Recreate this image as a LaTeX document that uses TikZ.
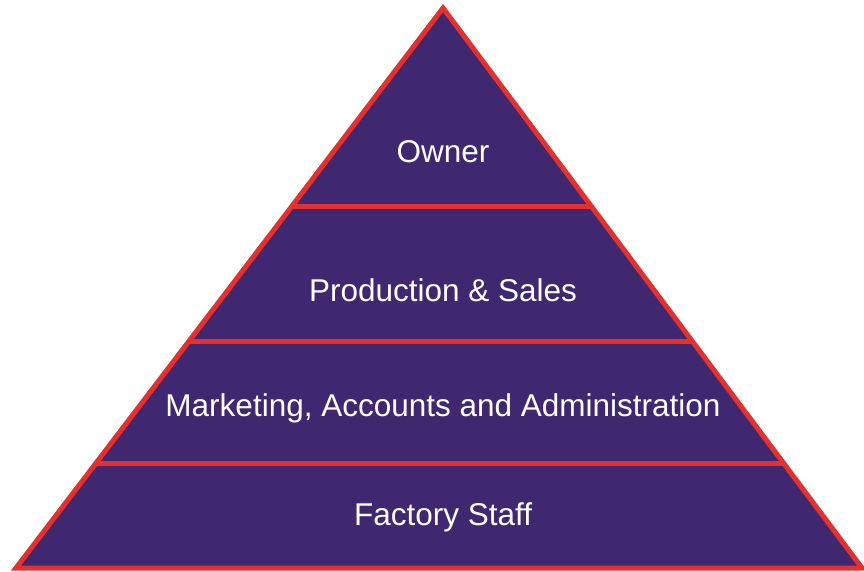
\documentclass[tikz,border=0pt]{standalone}
\usepackage{fontspec}
\setmainfont{Liberation Sans}
\usetikzlibrary{calc}
\definecolor{pyrfill}{HTML}{3F2870}
\definecolor{pyredge}{HTML}{E2312F}
\begin{document}
\begin{tikzpicture}[x=1pt,y=-1pt,
	edge/.style={draw=pyredge,line width=5pt},
	tier/.style={text=white,font=\fontsize{31.5}{36}\selectfont}]
	\useasboundingbox (0,0) rectangle (864,572);
	\coordinate (top) at (443,8);
	\coordinate (bl) at (16,568);
	\coordinate (br) at (862,568);
	\fill[pyrfill] (top) -- (bl) -- (br) -- cycle;
	% level dividers
	\foreach \y in {207,342,463}{
		\draw[edge] ($(top)!{(\y-8)/560}!(bl)$) -- ($(top)!{(\y-8)/560}!(br)$);
	}
	\draw[edge,line join=miter] (top) -- (bl) -- (br) -- cycle;
	\node[tier] (owner) at (443,152) {Owner};
	\node[tier] (prod) at (443,290) {Production \& Sales};
	\node[tier] (mkt) at (443,408) {Marketing, Accounts and Administration};
	\node[tier] (staff) at (443,517) {Factory Staff};
\end{tikzpicture}
\end{document}
